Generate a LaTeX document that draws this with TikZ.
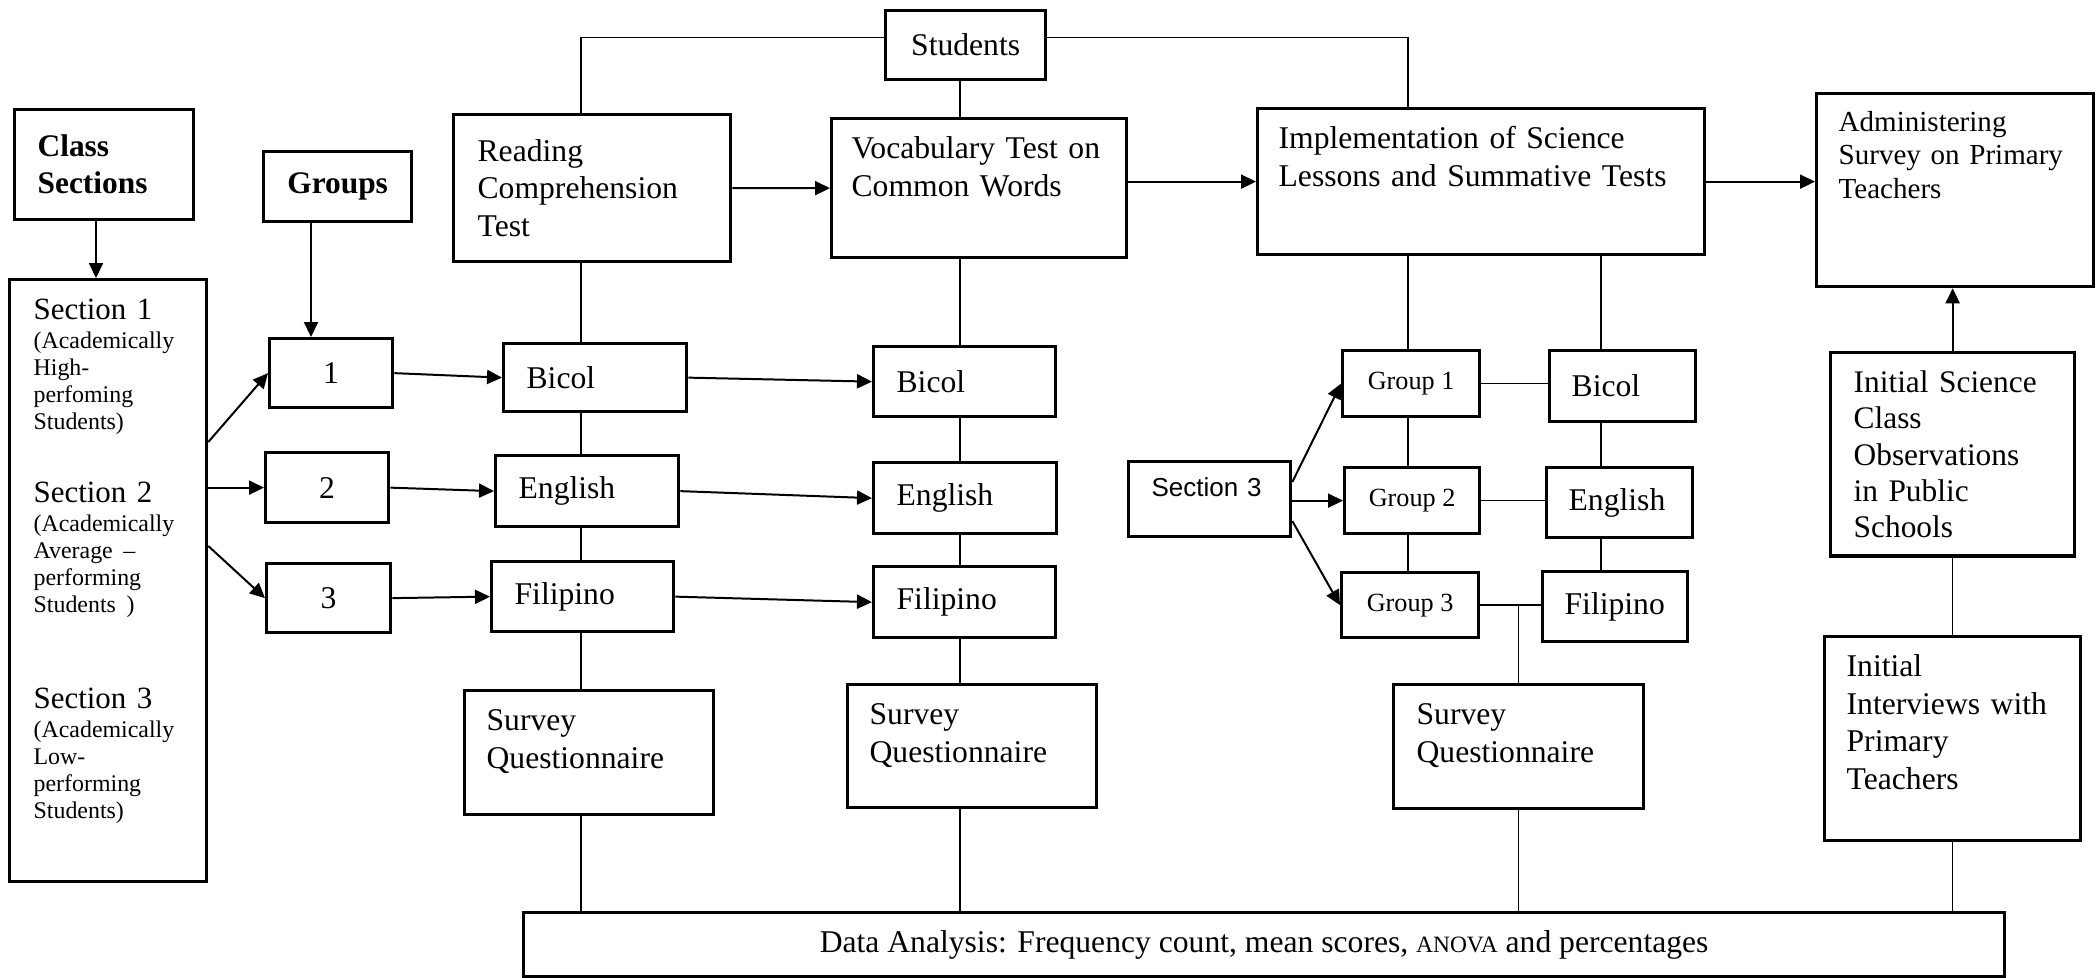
\documentclass[tikz,border=0pt]{standalone}
\usepackage{fontspec}
\setmainfont{Liberation Serif}
\setsansfont{Liberation Sans}
\usetikzlibrary{arrows.meta}
\tikzset{
	frame/.style={draw, line width=1.4pt, anchor=north west, inner xsep=.33cm, inner ysep=.27cm, align=left, font=\fontsize{13.5}{16}\selectfont},
	topbox/.style={frame, text height=.33cm, text depth=#1},
	cbox/.style 2 args={frame, align=center, inner sep=0pt, minimum width=#1, minimum height=#2},
	link/.style={line width=.55pt},
	thin link/.style={line width=.45pt},
	arr/.style={line width=.85pt, -{Triangle[length=6.4pt,width=6pt]}},
}
\begin{document}
\begin{tikzpicture}
	\useasboundingbox (0,0) rectangle (31.455,-14.67);
	\coordinate (col1) at (8.715,0);
	\coordinate (col2) at (14.4,0);
	\coordinate (col3) at (21.12,0);
	\coordinate (col4) at (24.015,0);
	% left part
	\node[cbox={2.4cm}{1.035cm}] (students) at (13.26,-.135) {Students};
	\node[frame, inner xsep=.345cm, text width=1.995cm, minimum height=1.65cm, font=\fontsize{13.4}{15.8}\selectfont\bfseries] (classsec) at (.195,-1.62) {Class\\Sections};
	\node[topbox=8.15cm, inner xsep=.36cm, inner ysep=.285cm, text height=.31cm, text width=2.235cm] (sections) at (.12,-4.17) {%
		\fontsize{13.2}{16}\selectfont Section 1\par\vspace{1pt}
		\fontsize{10.2}{11.5}\selectfont (Academically\\High-\\perfoming\\Students)\par\vspace{15pt}
		\fontsize{13.2}{16}\selectfont Section 2\par\vspace{1pt}
		\fontsize{10.2}{11.5}\selectfont (Academically\\Average –\\performing\\Students )\par\vspace{25pt}
		\fontsize{13.2}{16}\selectfont Section 3\par\vspace{1pt}
		\fontsize{10.2}{11.5}\selectfont (Academically\\Low-\\performing\\Students)\par};
	\node[cbox={2.22cm}{1.05cm}, font=\fontsize{13.4}{16}\selectfont\bfseries] (groups) at (3.93,-2.25) {Groups};
	\node[cbox={1.845cm}{1.035cm}] (g1) at (4.02,-5.055) {1};
	\node[cbox={1.845cm}{1.05cm}] (g2) at (3.96,-6.765) {2};
	\node[cbox={1.86cm}{1.035cm}] (g3) at (3.975,-8.43) {3};
	% reading and vocabulary
	\node[frame, inner xsep=.36cm, text width=3.435cm, minimum height=2.205cm] (reading) at (6.78,-1.695) {Reading\\Comprehension\\Test};
	\node[topbox=1.215cm, inner xsep=.3cm, text width=3.825cm] (vocab) at (12.45,-1.755) {Vocabulary Test on\\Common Words};
	\node[frame, inner xsep=.345cm, text width=2.055cm, minimum height=1.02cm] (bicol1) at (7.53,-5.13) {Bicol};
	\node[frame, inner xsep=.345cm, text width=2.055cm, minimum height=1.065cm] (english1) at (7.41,-6.81) {English};
	\node[frame, inner xsep=.345cm, text width=2.04cm, minimum height=1.05cm] (filipino1) at (7.35,-8.4) {Filipino};
	\node[frame, inner xsep=.345cm, text width=2.04cm, minimum height=1.05cm] (bicol2) at (13.08,-5.175) {Bicol};
	\node[frame, inner xsep=.345cm, text width=2.055cm, minimum height=1.065cm] (english2) at (13.08,-6.915) {English};
	\node[frame, inner xsep=.345cm, text width=2.04cm, minimum height=1.065cm] (filipino2) at (13.08,-8.475) {Filipino};
	\node[topbox=.99cm, text width=3.075cm] (survey1) at (6.945,-10.335) {Survey\\Questionnaire};
	\node[topbox=.975cm, text width=3.075cm] (survey2) at (12.69,-10.245) {Survey\\Questionnaire};
	% science lessons
	\node[topbox=1.32cm, inner xsep=.315cm, text width=6.075cm] (impl) at (18.84,-1.605) {Implementation of Science\\Lessons and Summative Tests};
	\node[frame, font=\sffamily\fontsize{11.1}{13}\selectfont, inner xsep=.345cm, inner ysep=0pt, text width=1.74cm, text height=.525cm, text depth=.6cm] (sec3) at (16.905,-6.9) {Section 3};
	\node[cbox={2.055cm}{.99cm}, font=\fontsize{11.2}{13}\selectfont] (grp1) at (20.115,-5.235) {Group 1};
	\node[cbox={2.025cm}{.99cm}, font=\fontsize{11.2}{13}\selectfont] (grp2) at (20.145,-6.99) {Group 2};
	\node[cbox={2.055cm}{.975cm}, font=\fontsize{11.2}{13}\selectfont] (grp3) at (20.1,-8.565) {Group 3};
	\node[frame, text width=1.53cm, minimum height=1.065cm] (bicol3) at (23.22,-5.235) {Bicol};
	\node[frame, text width=1.53cm, minimum height=1.05cm] (english3) at (23.175,-6.99) {English};
	\node[frame, text width=1.515cm, minimum height=1.05cm] (filipino3) at (23.115,-8.55) {Filipino};
	\node[topbox=.99cm, inner xsep=.345cm, text width=3.06cm] (survey3) at (20.88,-10.245) {Survey\\Questionnaire};
	% teachers
	\node[topbox=2.055cm, text height=.3cm, text width=3.495cm, font=\fontsize{12.4}{14.2}\selectfont] (admin) at (27.225,-1.38) {Administering\\Survey on Primary\\Teachers};
	\node[frame, inner xsep=.345cm, text width=2.97cm, minimum height=3.015cm, font=\fontsize{13.4}{15.5}\selectfont] (science) at (27.435,-5.265) {Initial Science\\Class\\Observations\\in Public\\Schools};
	\node[topbox=2.19cm, text width=3.18cm] (interviews) at (27.345,-9.525) {Initial\\Interviews with\\Primary\\Teachers};
	\node[cbox={22.215cm}{.96cm}] (data) at (7.83,-13.665) {Data Analysis: Frequency count, mean scores, {\fontsize{10}{12}\selectfont ANOVA} and percentages};
	% connectors
	\draw[thin link] ([yshift=.11cm]students.west) -| (reading.north -| col1);
	\draw[thin link] ([yshift=.11cm]students.east) -| (impl.north -| col3);
	\draw[link] (students.south -| col2) -- (vocab.north -| col2);
	\draw[link] (reading.south -| col1) -- (bicol1.north -| col1)
		(bicol1.south -| col1) -- (english1.north -| col1)
		(english1.south -| col1) -- (filipino1.north -| col1)
		(filipino1.south -| col1) -- (survey1.north -| col1)
		(survey1.south -| col1) -- (data.north -| col1);
	\draw[link] (vocab.south -| col2) -- (bicol2.north -| col2)
		(bicol2.south -| col2) -- (english2.north -| col2)
		(english2.south -| col2) -- (filipino2.north -| col2)
		(filipino2.south -| col2) -- (survey2.north -| col2)
		(survey2.south -| col2) -- (data.north -| col2);
	\draw[link] (impl.south -| col3) -- (grp1.north -| col3)
		(grp1.south -| col3) -- (grp2.north -| col3)
		(grp2.south -| col3) -- (grp3.north -| col3);
	\draw[link] (impl.south -| col4) -- (bicol3.north -| col4)
		(bicol3.south -| col4) -- (english3.north -| col4)
		(english3.south -| col4) -- (filipino3.north -| col4);
	\draw[link] (grp1.east) -- (grp1.east -| bicol3.west)
		(grp2.east) -- (grp2.east -| english3.west)
		(grp3.east) -- (grp3.east -| filipino3.west);
	\draw[link] (grp3.east -| survey3.north) -- (survey3.north)
		(survey3.south) -- (survey3.south |- data.north);
	\draw[link] (science.south) -- (science.south |- interviews.north)
		(interviews.south) -- (interviews.south |- data.north);
	\draw[arr] (science.north) -- (science.north |- admin.south);
	\draw[arr] (classsec.south -| 1.44,0) -- (sections.north -| 1.44,0);
	\draw[arr] (groups.south -| 4.665,0) -- (g1.north -| 4.665,0);
	\draw[arr] (sections.east |- 0,-6.63) -- (g1.west);
	\draw[arr] (sections.east |- g2.west) -- (g2.west);
	\draw[arr] (sections.east |- 0,-8.19) -- (g3.west);
	\draw[arr] (g1.east) -- (bicol1.west);
	\draw[arr] (g2.east) -- (english1.west);
	\draw[arr] (g3.east) -- (filipino1.west);
	\draw[arr] (bicol1.east) -- (bicol2.west);
	\draw[arr] (english1.east) -- (english2.west);
	\draw[arr] (filipino1.east) -- (filipino2.west);
	\draw[arr] (reading.east) -- (vocab.west);
	\draw[arr] (vocab.east |- impl.west) -- (impl.west);
	\draw[arr] (impl.east) -- (admin.west |- impl.east);
	\draw[arr] (sec3.east |- 0,-7.23) -- (grp1.west);
	\draw[arr] (sec3.east |- grp2.west) -- (grp2.west);
	\draw[arr] (sec3.east |- 0,-7.815) -- (grp3.west);
\end{tikzpicture}
\end{document}
